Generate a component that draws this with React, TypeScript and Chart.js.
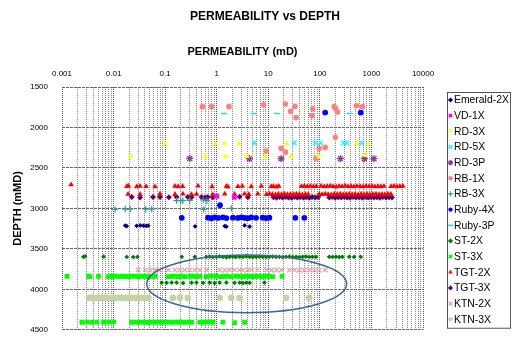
import React, { useEffect, useRef } from 'react';
import { Chart, registerables } from 'chart.js';
import { drawPoint } from 'chart.js/helpers';

Chart.register(...registerables);

const FONT = '"Liberation Sans", Arial, sans-serif';

// ---- axis ranges / ticks ----
const X_MIN = 0.001;
const X_MAX = 10000;
const Y_MIN = 1500;
const Y_MAX = 4500;
const Y_STEP = 500;
const X_DECADE_EXPONENTS = [-3, -2, -1, 0, 1, 2, 3];

// ---- data: [permeability mD, depth mMD] ----
const EMERALD_2X: [number, number][] = [
  [0.0168, 3212], [0.018, 3218], [0.028, 3215], [0.033, 3210], [0.038, 3213], [0.043, 3216], [0.047, 3212],
  [0.38, 3222], [1.43, 3218], [1.54, 3224], [3.47, 3210], [4.34, 3225],
];
const VD_1X: [number, number][] = [[1.01, 2850], [2.2, 2862]];
const RD_3X: [number, number][] = [
  [0.1, 2200], [0.94, 2200], [1.41, 2200], [2.7, 2200], [23, 2200], [510, 2200], [870, 2200],
  [0.021, 2356], [0.6, 2356], [1.49, 2356], [3.85, 2356], [8.7, 2356], [27.6, 2356], [94, 2356], [755, 2344],
];
const RD_5X: [number, number][] = [[5.4, 2191], [32, 2191], [81, 2191], [104, 2191], [287, 2191], [334, 2191], [650, 2191]];
const RD_3P: [number, number][] = [[0.3, 2383], [4.3, 2386], [17.7, 2386], [250, 2386], [730, 2386], [1120, 2386]];
const RB_1X: [number, number][] = [
  [0.53, 1743], [0.79, 1743], [1.73, 1743], [8.1, 1719], [21.5, 1711], [27, 1800], [33, 1740], [34.6, 1878],
  [73, 1770], [70, 1855], [190, 1743], [204, 1770], [220, 1808], [510, 1731], [670, 1743],
  [200, 2121], [9.1, 2290], [17.7, 2258], [21.5, 2305], [97, 2258], [127, 2246], [84, 2383],
];
const RB_3X: [number, number][] = [
  [0.167, 2903], [0.2, 2900], [0.22, 2905], [0.3, 2900], [0.55, 2895], [0.64, 2905],
  [0.0107, 3012], [0.0168, 3008], [0.021, 3008], [0.042, 3010], [0.055, 3010], [0.56, 3012], [1.92, 3000],
];
const RUBY_4X: [number, number][] = [
  [127, 1816], [620, 1816], [1.16, 2960],
  [0.21, 3117], [0.68, 3115], [0.79, 3122], [0.91, 3112], [1.07, 3118], [1.32, 3110], [1.54, 3120], [2.06, 3114],
  [2.58, 3118], [3.0, 3110], [3.47, 3116], [4.0, 3121], [4.68, 3112], [5.8, 3117], [7.8, 3114], [9.1, 3119],
  [10.5, 3115], [33.5, 3117], [50, 3117],
];
const RUBY_3P: [number, number][] = [[1.38, 1828], [5.2, 1828], [14.6, 1828], [70, 1832], [380, 1828]];
const ST_2X: [number, number][] = [
  [0.0026, 3598], [0.0028, 3592], [0.0064, 3596], [0.018, 3600], [0.024, 3602], [0.029, 3600], [0.21, 3598],
  [0.376, 3598], [0.63, 3600], [0.73, 3596], [0.84, 3602], [0.99, 3598], [1.14, 3594], [1.32, 3600], [1.54, 3604],
  [1.78, 3598], [2.06, 3596], [2.33, 3602], [2.78, 3598], [3.22, 3600], [3.74, 3594], [4.34, 3598], [5.02, 3602],
  [5.83, 3600], [6.77, 3596], [7.83, 3598], [9.1, 3602], [10.5, 3598], [12.2, 3595], [14.2, 3600], [16.5, 3598],
  [19.1, 3602], [22.1, 3598], [25.7, 3596], [29.8, 3600], [34.6, 3598], [40, 3602], [46.5, 3598], [53.9, 3595],
  [62, 3600], [72, 3598], [84, 3600], [152, 3598], [177, 3600], [205, 3596], [237, 3600], [274, 3598],
  [370, 3598], [461, 3600], [621, 3598],
  [0.086, 3918], [0.107, 3920], [0.134, 3916], [0.167, 3918], [0.223, 3922], [0.325, 3918], [0.405, 3916],
  [0.545, 3920], [0.73, 3918], [0.91, 3922], [1.14, 3918], [1.54, 3916], [2.22, 3920], [2.78, 3918],
  [3.22, 3922], [3.74, 3918], [4.34, 3920], [8.4, 3918],
];
const ST_3X: [number, number][] = [
  [0.00125, 3840], [0.0033, 3838], [0.0035, 3842], [0.0051, 3840], [0.008, 3842], [0.0093, 3838], [0.0107, 3840],
  [0.0124, 3843], [0.0145, 3838], [0.0168, 3840], [0.0194, 3842], [0.0225, 3838], [0.0261, 3840], [0.0303, 3843],
  [0.0352, 3840], [0.0407, 3838], [0.0472, 3842], [0.0548, 3840], [0.0635, 3838], [0.115, 3842], [0.133, 3840],
  [0.155, 3838], [0.179, 3842], [0.208, 3840], [0.241, 3843], [0.301, 3840], [0.349, 3838], [0.406, 3842],
  [0.47, 3840], [0.63, 3842], [0.79, 3838], [0.99, 3840], [1.23, 3843], [1.43, 3838], [1.65, 3840], [1.92, 3842],
  [2.4, 3838], [2.78, 3840], [3.22, 3842], [3.74, 3838], [4.34, 3840], [5.02, 3842], [5.83, 3838], [6.77, 3840],
  [7.83, 3843], [9.1, 3838], [10.5, 3840], [12.2, 3842], [18.5, 3840],
  [0.00244, 4407], [0.00305, 4405], [0.00381, 4408], [0.00476, 4404], [0.0064, 4407], [0.008, 4405], [0.01, 4402],
  [0.0225, 4407], [0.0261, 4405], [0.0303, 4408], [0.0352, 4404], [0.0407, 4407], [0.0472, 4410], [0.0548, 4405],
  [0.0635, 4407], [0.0736, 4404], [0.086, 4408], [0.099, 4406], [0.115, 4404], [0.133, 4408], [0.155, 4405],
  [0.179, 4407], [0.208, 4404], [0.241, 4408], [0.279, 4405], [0.325, 4407], [0.47, 4404], [0.545, 4407],
  [0.63, 4405], [0.73, 4402], [0.85, 4408], [1.32, 4404], [2.22, 4412], [3.47, 4407],
];
const TGT_2X: [number, number][] = [
  [0.0015, 2707],
  [0.0181, 2727], [0.0194, 2722], [0.0282, 2730], [0.0326, 2725], [0.0426, 2728], [0.0635, 2732], [0.155, 2725],
  [0.179, 2730], [0.218, 2727], [0.435, 2722], [0.812, 2730], [1.54, 2727], [1.65, 2733], [2.58, 2728], [3.13, 2725],
  [4.68, 2730], [7.29, 2725], [11.4, 2730], [12.6, 2727], [14.4, 2733], [16.0, 2726], [43.8, 2728], [50, 2722],
  [57.1, 2730], [65.3, 2726], [74.6, 2732], [85.3, 2727], [106, 2724], [122, 2730], [139, 2727], [159, 2722],
  [181, 2729], [207, 2733], [237, 2726], [271, 2729], [309, 2723], [353, 2730], [404, 2727], [461, 2732],
  [527, 2725], [603, 2728], [689, 2731], [787, 2724], [899, 2729], [1027, 2726], [1173, 2732], [1341, 2727],
  [1532, 2730], [1750, 2725], [2390, 2728], [2730, 2724], [3120, 2730], [3565, 2727], [4074, 2725],
  [0.0191, 2824], [0.0326, 2828], [0.0794, 2822], [0.155, 2826], [0.221, 2820], [0.325, 2828], [0.406, 2824],
  [0.837, 2830], [1.43, 2822], [2.22, 2826], [3.47, 2820], [4.2, 2826], [6.27, 2822], [9.23, 2828], [10.5, 2822],
  [12.0, 2826], [13.8, 2830], [15.7, 2823], [18.0, 2827], [20.5, 2821], [23.5, 2829], [26.8, 2824], [30.7, 2828],
  [35, 2822], [40, 2826], [45.7, 2830], [52.3, 2824], [59.7, 2827], [97.3, 2824], [111, 2828], [127, 2822],
  [145, 2827], [166, 2830], [190, 2823], [217, 2826], [248, 2822], [283, 2829], [323, 2825], [370, 2821],
  [422, 2828], [482, 2824], [551, 2830], [630, 2823], [719, 2827], [822, 2822], [939, 2829], [1073, 2825],
  [1227, 2821], [1402, 2828], [1602, 2824], [1830, 2827], [2091, 2822], [2390, 2826],
];
const TGT_3X: [number, number][] = [
  [0.0225, 2860], [0.0326, 2866], [0.0581, 2858], [0.0794, 2860], [0.118, 2862], [0.167, 2860], [0.275, 2858],
  [0.325, 2862], [0.507, 2860], [0.587, 2864], [0.67, 2858], [0.837, 2862], [2.78, 2856], [4.02, 2862],
  [12.6, 2862], [14.4, 2868], [16.5, 2860], [18.8, 2866], [21.5, 2858], [24.5, 2864], [28, 2868], [32, 2860],
  [36.6, 2865], [41.8, 2858], [47.8, 2866], [54.6, 2862], [62.4, 2868], [71.3, 2860], [81.5, 2864], [93.1, 2858],
  [152, 2866], [173, 2860], [198, 2868], [226, 2862], [259, 2866], [296, 2858], [338, 2864], [386, 2868],
  [441, 2860], [504, 2866], [576, 2862], [658, 2868], [752, 2860], [860, 2864], [982, 2858], [1122, 2866],
  [1282, 2862], [1465, 2868], [1674, 2860], [1913, 2864], [2186, 2862], [2498, 2866],
];
const KTN_2X: [number, number][] = [
  [0.03, 3762], [0.041, 3760], [0.051, 3764], [0.064, 3760], [0.079, 3763], [0.115, 3762], [0.155, 3760],
  [0.193, 3764], [0.24, 3761], [0.3, 3763], [0.376, 3760], [0.47, 3764], [0.63, 3762], [1.14, 3760], [1.43, 3764],
  [1.78, 3761], [2.22, 3763], [2.78, 3760], [3.18, 3764], [3.97, 3762], [4.74, 3760], [6.19, 3763], [9.23, 3761],
  [11.5, 3764], [14.4, 3760], [18.0, 3762], [25.7, 3763], [32, 3760], [40, 3764], [50, 3761], [62, 3763],
  [78, 3760], [97, 3764], [127, 3762],
];
const KTN_3X: [number, number][] = [
  [0.0033, 4105], [0.0038, 4103], [0.0044, 4107], [0.0051, 4104], [0.0059, 4106], [0.0069, 4103], [0.008, 4107],
  [0.0093, 4105], [0.0107, 4104], [0.0124, 4106], [0.0145, 4103], [0.0168, 4107], [0.0194, 4105], [0.0225, 4104],
  [0.0261, 4106], [0.0303, 4103], [0.0352, 4107], [0.0407, 4105], [0.0472, 4104], [0.141, 4105], [0.193, 4103],
  [0.275, 4107], [1.14, 4105], [1.92, 4104], [2.78, 4106], [22.1, 4105], [62, 4104],
];

// highlighted zone (data coordinates)
const ELLIPSE_PERM = [0.044, 330];
const ELLIPSE_DEPTH = [3575, 4290];

// ---- series styling ----
const SERIES = [
  { label: 'Emerald-2X', data: EMERALD_2X, color: '#000080', style: 'rectRot', r: 2.4, bw: 0 },
  { label: 'VD-1X', data: VD_1X, color: '#FF00FF', style: 'rect', r: 3.4, bw: 0 },
  { label: 'RD-3X', data: RD_3X, color: '#FFFF00', style: 'triangle', r: 3.2, bw: 0 },
  { label: 'RD-5X', data: RD_5X, color: '#00FFFF', style: 'crossRot', r: 3.2, bw: 1.3 },
  { label: 'RD-3P', data: RD_3P, color: '#8E3C99', style: 'star', r: 3.6, bw: 1.3 },
  { label: 'RB-1X', data: RB_1X, color: '#FF8080', style: 'circle', r: 2.8, bw: 0 },
  { label: 'RB-3X', data: RB_3X, color: '#339999', style: 'cross', r: 3.2, bw: 1.2 },
  { label: 'Ruby-4X', data: RUBY_4X, color: '#0000FF', style: 'circle', r: 2.9, bw: 0 },
  { label: 'Ruby-3P', data: RUBY_3P, color: '#33CCFF', style: 'line', r: 3, bw: 1.5 },
  { label: 'ST-2X', data: ST_2X, color: '#008000', style: 'rectRot', r: 2.4, bw: 0 },
  { label: 'ST-3X', data: ST_3X, color: '#00FF00', style: 'rect', r: 3.4, bw: 0 },
  { label: 'TGT-2X', data: TGT_2X, color: '#FF0000', style: 'triangle', r: 3.2, bw: 0 },
  { label: 'TGT-3X', data: TGT_3X, color: '#660066', style: 'rectRot', r: 3, bw: 0 },
  { label: 'KTN-2X', data: KTN_2X, color: '#E3A5A5', style: 'crossRot', r: 3.2, bw: 1.3 },
  { label: 'KTN-3X', data: KTN_3X, color: '#C3D3A3', style: 'circle', r: 3.3, bw: 0 },
];

const isDecade = (v: number) => Math.abs(Math.log10(v) - Math.round(Math.log10(v))) < 1e-9;

const X_TICKS: number[] = (() => {
  const t: number[] = [];
  X_DECADE_EXPONENTS.forEach((e) => {
    for (let k = 1; k <= 9; k++) t.push(Number((k * Math.pow(10, e)).toPrecision(3)));
  });
  t.push(X_MAX);
  return t;
})();

const decorPlugin = {
  id: 'decor',
  afterDatasetsDraw(chart: any) {
    const { ctx, scales } = chart;
    const x0 = scales.x.getPixelForValue(ELLIPSE_PERM[0]);
    const x1 = scales.x.getPixelForValue(ELLIPSE_PERM[1]);
    const y0 = scales.y.getPixelForValue(ELLIPSE_DEPTH[0]);
    const y1 = scales.y.getPixelForValue(ELLIPSE_DEPTH[1]);
    ctx.save();
    ctx.beginPath();
    ctx.ellipse((x0 + x1) / 2, (y0 + y1) / 2, Math.abs(x1 - x0) / 2, Math.abs(y1 - y0) / 2, 0, 0, Math.PI * 2);
    ctx.strokeStyle = '#3D6698';
    ctx.lineWidth = 1.5;
    ctx.stroke();
    ctx.restore();
  },
  afterDraw(chart: any) {
    const { ctx } = chart;
    ctx.save();
    // main title
    ctx.font = `bold 12px ${FONT}`;
    ctx.fillStyle = '#000';
    ctx.textAlign = 'center';
    ctx.textBaseline = 'middle';
    ctx.fillText('PERMEABILITY vs DEPTH', chart.width / 2 + 9, 17);

    // legend (right side, framed)
    const boxLeft = chart.chartArea.right + 24.5;
    const boxTop = 92.5;
    const rowH = 15.66;
    const n = chart.data.datasets.length;
    const firstY = boxTop + 7.5;
    const boxBottom = firstY + (n - 1) * rowH + 9;
    ctx.strokeStyle = '#555';
    ctx.lineWidth = 1;
    ctx.strokeRect(boxLeft, boxTop, chart.width - 1.5 - boxLeft, boxBottom - boxTop);
    ctx.font = `10.4px ${FONT}`;
    ctx.textAlign = 'left';
    chart.data.datasets.forEach((ds: any, i: number) => {
      const cy = firstY + i * rowH;
      const cx = boxLeft + 3;
      ctx.fillStyle = ds.pointBackgroundColor;
      ctx.strokeStyle = ds.pointBorderColor;
      ctx.lineWidth = Math.max(1, ds.pointBorderWidth);
      drawPoint(ctx, {
        pointStyle: ds.pointStyle,
        radius: ds.pointStyle === 'circle' ? 2.2 : 2.6,
        rotation: 0,
        borderWidth: ds.pointBorderWidth,
      } as any, cx, cy);
      ctx.fillStyle = '#000';
      ctx.fillText(ds.label, cx + 3.5, cy + 0.5);
    });
    ctx.restore();
  },
};

export default function App() {
  const ref = useRef<HTMLCanvasElement | null>(null);
  useEffect(() => {
    if (!ref.current) return;
    const chart = new Chart(ref.current, {
      type: 'scatter',
      data: {
        datasets: SERIES.map((s) => ({
          label: s.label,
          data: s.data.map(([x, y]) => ({ x, y })),
          pointStyle: s.style as any,
          pointRadius: s.r,
          pointBackgroundColor: s.color,
          pointBorderColor: s.color,
          backgroundColor: s.color,
          borderColor: s.color,
          pointBorderWidth: s.bw,
          borderWidth: s.bw,
        })),
      },
      options: {
        responsive: false,
        animation: false,
        events: [],
        layout: { padding: { left: 0, top: 0, right: 89, bottom: 4 } },
        plugins: {
          title: { display: false },
          tooltip: { enabled: false },
          legend: { display: false },
        },
        scales: {
          x: {
            type: 'logarithmic',
            position: 'top',
            min: X_MIN,
            max: X_MAX,
            afterBuildTicks: (s: any) => {
              s.ticks = X_TICKS.map((v) => ({ value: v, major: isDecade(v) }));
            },
            afterFit: (s: any) => {
              s.height = 87;
            },
            ticks: {
              autoSkip: false,
              maxRotation: 0,
              minRotation: 0,
              padding: 8.5,
              color: '#000',
              font: { family: FONT, size: 8 },
              callback: (v: any) => (isDecade(Number(v)) ? String(Number(v)) : ''),
            },
            grid: {
              drawTicks: false,
              color: (c: any) => (c.tick && c.tick.major ? '#555' : '#8a8a8a'),
              lineWidth: 1,
            },
            border: { display: false, dash: [1, 1] },
            title: {
              display: true,
              text: 'PERMEABILITY (mD)',
              color: '#000',
              font: { family: FONT, size: 11, weight: 'bold' },
              padding: { top: 45, bottom: 0 },
            },
          },
          y: {
            type: 'linear',
            reverse: true,
            min: Y_MIN,
            max: Y_MAX,
            afterFit: (s: any) => {
              s.width = 62;
            },
            ticks: {
              stepSize: Y_STEP,
              padding: 14,
              color: '#000',
              font: { family: FONT, size: 8, lineHeight: 0.8 },
              callback: (v: any) => String(v),
            },
            grid: { drawTicks: false, color: '#666', lineWidth: 1 },
            border: { display: false, dash: [3, 1] },
            title: {
              display: true,
              text: 'DEPTH (mMD)',
              color: '#000',
              font: { family: FONT, size: 11, weight: 'bold' },
              padding: { top: 11, bottom: 0 },
            },
          },
        },
      },
      plugins: [decorPlugin],
    } as any);
    return () => chart.destroy();
  }, []);
  return (
    <div style={{ position: 'absolute', left: 0, top: 0, width: 512, height: 347, background: '#fff' }}>
      <canvas ref={ref} width={512} height={347} style={{ display: 'block' }} />
    </div>
  );
}
